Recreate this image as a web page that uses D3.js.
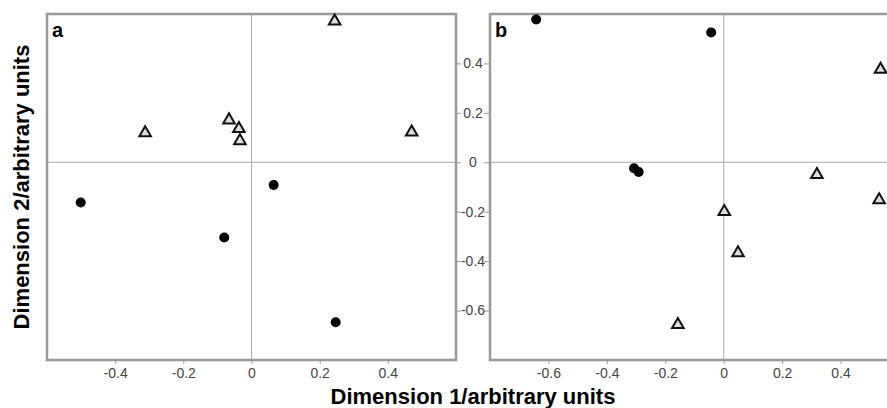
<!DOCTYPE html>
<html lang="en">
<head>
  <meta charset="UTF-8">
  <title>Dimension plot</title>
  <script src="https://d3js.org/d3.v7.min.js"></script>
  <style>
    body { margin: 0; background: #fff; }
    text { font-family: "Liberation Sans", Arial, sans-serif; }
  </style>
</head>
<body>
  <div id="chart"></div>

  <script>
    // Panel a
    const aTriX = [0.244, -0.312, -0.066, -0.037, -0.034, 0.470];
    const aTriY = [0.575, 0.123, 0.175, 0.140, 0.091, 0.126];
    const aDotX = [-0.501, 0.065, -0.080, 0.247];
    const aDotY = [-0.163, -0.092, -0.304, -0.647];

    // Panel b
    const bTriX = [0.537, 0.319, 0.532, 0.002, 0.049, -0.157];
    const bTriY = [0.380, -0.046, -0.148, -0.196, -0.363, -0.653];
    const bDotX = [-0.642, -0.043, -0.307, -0.291];
    const bDotY = [0.578, 0.525, -0.024, -0.039];

    const aTicksX = [-0.4, -0.2, 0, 0.2, 0.4];
    const bTicksX = [-0.6, -0.4, -0.2, 0, 0.2, 0.4];
    const ticksY = [0.4, 0.2, 0, -0.2, -0.4, -0.6];

    const width = 887, height = 408;
    const plotTop = 14, plotBottom = 360;

    const svg = d3.select("#chart").append("svg")
      .attr("width", width)
      .attr("height", height);

    const y = d3.scaleLinear().domain([-0.8, 0.6]).range([plotBottom, plotTop]);

    const fmt = d => d === 0 ? "0" : d3.format(".1f")(d).replace("−", "-");

    function panel(left, xDomain, ticks, triX, triY, dotX, dotY, label) {
      const x = d3.scaleLinear().domain(xDomain).range([left, left + 409]);
      const g = svg.append("g");

      // zero lines
      g.append("line")
        .attr("x1", x(xDomain[0])).attr("x2", x(xDomain[1]))
        .attr("y1", y(0)).attr("y2", y(0))
        .style("stroke", "#aaa").style("stroke-width", 1);
      g.append("line")
        .attr("x1", x(0)).attr("x2", x(0))
        .attr("y1", plotTop).attr("y2", plotBottom)
        .style("stroke", "#aaa").style("stroke-width", 1);

      // x axis
      const ax = g.append("g")
        .attr("transform", `translate(0,${plotBottom})`)
        .call(d3.axisBottom(x).tickValues(ticks).tickSize(4).tickPadding(4).tickFormat(fmt));
      ax.select(".domain").remove();
      ax.selectAll("line").style("stroke", "#999");
      ax.selectAll("text").style("font-size", "14px").style("fill", "#444")
        .style("font-family", "'Liberation Sans', Arial, sans-serif");

      // frame
      g.append("rect")
        .attr("x", x(xDomain[0])).attr("y", plotTop)
        .attr("width", x(xDomain[1]) - x(xDomain[0]))
        .attr("height", plotBottom - plotTop)
        .style("fill", "none").style("stroke", "#999").style("stroke-width", 2.5);

      // points
      g.append("g").selectAll("circle")
        .data(dotX)
        .enter().append("circle")
        .attr("cx", d => x(d))
        .attr("cy", (d, i) => y(dotY[i]))
        .attr("r", 5)
        .style("fill", "#000");

      g.append("g").selectAll("path")
        .data(triX)
        .enter().append("path")
        .attr("d", d3.symbol().type(d3.symbolTriangle).size(58))
        .attr("transform", (d, i) => `translate(${x(d)},${y(triY[i]) + 1})`)
        .style("fill", "#ddd")
        .style("stroke", "#111")
        .style("stroke-width", 2);

      g.append("text")
        .attr("x", left + 5).attr("y", 37)
        .text(label)
        .style("font-size", "20px").style("font-weight", "bold");

      return x;
    }

    panel(47, [-0.6, 0.6], aTicksX, aTriX, aTriY, aDotX, aDotY, "a");
    panel(490, [-0.8, 0.6], bTicksX, bTriX, bTriY, bDotX, bDotY, "b");

    // shared y axis between the panels
    const ay = svg.append("g")
      .attr("transform", "translate(489,0)")
      .call(d3.axisLeft(y).tickValues(ticksY).tickSize(5).tickFormat(""));
    ay.select(".domain").remove();
    ay.selectAll("line").style("stroke", "#999");

    const ay2 = svg.append("g")
      .attr("transform", "translate(457,0)")
      .call(d3.axisRight(y).tickValues(ticksY).tickSize(4).tickFormat(""));
    ay2.select(".domain").remove();
    ay2.selectAll("line").style("stroke", "#999");

    svg.append("g").selectAll("text")
      .data(ticksY)
      .enter().append("text")
      .attr("x", 473)
      .attr("y", d => y(d))
      .attr("dy", "0.35em")
      .attr("text-anchor", "middle")
      .text(fmt)
      .style("font-size", "14px")
      .style("fill", "#444");

    // axis titles
    svg.append("text")
      .attr("x", 473).attr("y", 404)
      .attr("text-anchor", "middle")
      .text("Dimension 1/arbitrary units")
      .style("font-size", "22px").style("font-weight", "bold");

    svg.append("text")
      .attr("transform", "translate(29,187) rotate(-90)")
      .attr("text-anchor", "middle")
      .text("Dimension 2/arbitrary units")
      .style("font-size", "22px").style("font-weight", "bold");
  </script>
</body>
</html>
